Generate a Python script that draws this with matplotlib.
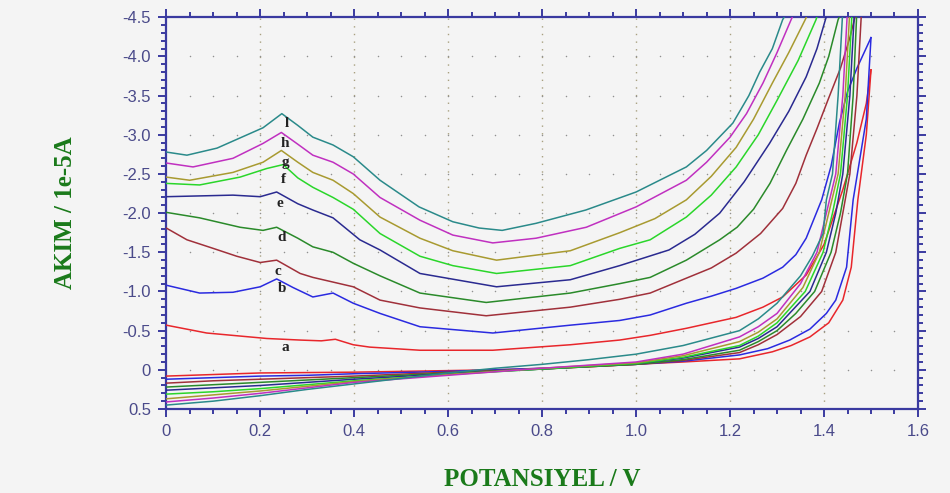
import numpy as np
import matplotlib
matplotlib.use("Agg")
import matplotlib.pyplot as plt
from matplotlib.ticker import MultipleLocator, FuncFormatter

# Forward (anodic) scans, potential in V, current in 1e-5 A
a_fwd_x = [0, .086, .214, .285, .33, .36, .398, .433, .54, .695, .86, .965, 1.03, 1.107, 1.16, 1.213, 1.27, 1.312, 1.362, 1.40, 1.44, 1.47, 1.49, 1.50]
a_fwd_y = [-.57, -.47, -.40, -.38, -.37, -.39, -.32, -.29, -.25, -.25, -.32, -.38, -.44, -.53, -.60, -.67, -.80, -.93, -1.21, -1.6, -2.3, -2.9, -3.4, -3.83]
b_fwd_x = [0, .071, .142, .2, .235, .27, .312, .355, .398, .455, .54, .695, .86, .965, 1.03, 1.107, 1.16, 1.213, 1.27, 1.312, 1.34, 1.362, 1.395, 1.415, 1.433, 1.45, 1.47, 1.49, 1.50]
b_fwd_y = [-1.08, -.98, -.99, -1.06, -1.16, -1.05, -.93, -.98, -.85, -.72, -.55, -.47, -.57, -.63, -.70, -.85, -.94, -1.04, -1.17, -1.31, -1.47, -1.68, -2.17, -2.6, -3.16, -3.55, -3.85, -4.11, -4.24]
c_fwd_x = [0, .044, .1, .15, .2, .235, .285, .312, .355, .398, .455, .54, .681, .86, .965, 1.03, 1.107, 1.16, 1.213, 1.265, 1.312, 1.34, 1.362, 1.385, 1.41, 1.435, 1.455, 1.47]
c_fwd_y = [-1.81, -1.66, -1.55, -1.45, -1.37, -1.40, -1.23, -1.18, -1.12, -1.06, -.89, -.79, -.69, -.80, -.90, -.98, -1.17, -1.30, -1.49, -1.74, -2.06, -2.38, -2.74, -3.08, -3.47, -3.85, -4.24, -4.6]
d_fwd_x = [0, .071, .157, .206, .235, .28, .312, .355, .398, .455, .54, .681, .86, .965, 1.03, 1.107, 1.178, 1.215, 1.25, 1.285, 1.32, 1.355, 1.39, 1.41, 1.43, 1.44]
d_fwd_y = [-2.01, -1.94, -1.82, -1.78, -1.82, -1.68, -1.57, -1.50, -1.36, -1.20, -.98, -.86, -.98, -1.10, -1.18, -1.40, -1.66, -1.82, -2.05, -2.38, -2.80, -3.2, -3.66, -4.0, -4.47, -4.6]
e_fwd_x = [0, .142, .2, .235, .28, .312, .355, .412, .455, .54, .703, .86, .965, 1.07, 1.125, 1.178, 1.23, 1.284, 1.325, 1.362, 1.385, 1.403, 1.41]
e_fwd_y = [-2.21, -2.23, -2.21, -2.27, -2.12, -2.04, -1.94, -1.66, -1.53, -1.23, -1.06, -1.15, -1.33, -1.53, -1.73, -2.0, -2.4, -2.89, -3.3, -3.74, -4.1, -4.47, -4.6]
f_fwd_x = [0, .071, .157, .214, .249, .28, .312, .355, .398, .455, .54, .61, .703, .86, .965, 1.03, 1.107, 1.16, 1.213, 1.26, 1.30, 1.345, 1.383, 1.39]
f_fwd_y = [-2.38, -2.36, -2.46, -2.57, -2.62, -2.45, -2.33, -2.20, -2.05, -1.74, -1.45, -1.33, -1.23, -1.33, -1.55, -1.66, -1.95, -2.23, -2.59, -3.0, -3.44, -3.95, -4.47, -4.6]
g_fwd_x = [0, .05, .142, .206, .245, .28, .312, .355, .398, .455, .54, .61, .703, .86, .965, 1.04, 1.107, 1.16, 1.213, 1.25, 1.29, 1.325, 1.36, 1.37]
g_fwd_y = [-2.46, -2.42, -2.52, -2.65, -2.80, -2.65, -2.52, -2.42, -2.25, -1.95, -1.68, -1.52, -1.40, -1.52, -1.75, -1.93, -2.17, -2.47, -2.84, -3.2, -3.66, -4.05, -4.47, -4.6]
h_fwd_x = [0, .057, .142, .206, .245, .28, .312, .355, .398, .455, .54, .61, .695, .787, .894, 1.0, 1.107, 1.15, 1.2, 1.235, 1.27, 1.30, 1.33, 1.34]
h_fwd_y = [-2.64, -2.59, -2.70, -2.89, -3.03, -2.88, -2.74, -2.65, -2.50, -2.20, -1.91, -1.72, -1.62, -1.68, -1.82, -2.08, -2.42, -2.65, -2.97, -3.27, -3.66, -4.05, -4.47, -4.6]
i_fwd_x = [0, .044, .108, .157, .206, .246, .28, .312, .355, .398, .455, .538, .61, .666, .715, .787, .893, 1.0, 1.107, 1.15, 1.206, 1.24, 1.263, 1.29, 1.312, 1.325]
i_fwd_y = [-2.78, -2.74, -2.83, -2.96, -3.09, -3.27, -3.12, -2.97, -2.87, -2.72, -2.42, -2.08, -1.89, -1.81, -1.78, -1.87, -2.04, -2.27, -2.59, -2.8, -3.15, -3.5, -3.8, -4.1, -4.47, -4.6]

# Reverse (return) scans
a_rev_x = [1.50, 1.49, 1.472, 1.458, 1.44, 1.41, 1.37, 1.33, 1.29, 1.22, 1.1, 1.03, .887, .7, .5, .4, .3, .2, .1, 0]
a_rev_y = [-3.83, -3.0, -2.17, -1.31, -.89, -.6, -.42, -.31, -.23, -.14, -.10, -.08, -.035, 0.0, .02, .03, .035, .04, .06, .08]
b_rev_x = [1.50, 1.49, 1.462, 1.448, 1.425, 1.405, 1.37, 1.327, 1.28, 1.22, 1.1, 1.0, .8, .6, .4, .3, .2, .1, 0]
b_rev_y = [-4.24, -3.2, -2.17, -1.31, -.89, -.72, -.52, -.38, -.27, -.19, -.11, -.07, -.02, .02, .05, .07, .08, .1, .12]
c_rev_x = [1.48, 1.47, 1.455, 1.44, 1.425, 1.395, 1.35, 1.3, 1.26, 1.22, 1.1, 1.0, .8, .6, .4, .3, .2, .1, 0]
c_rev_y = [-4.6, -3.5, -2.5, -2.0, -1.5, -1.0, -.68, -.45, -.32, -.22, -.12, -.07, -.01, .03, .08, .1, .12, .14, .17]
d_rev_x = [1.47, 1.462, 1.45, 1.435, 1.415, 1.38, 1.34, 1.3, 1.26, 1.22, 1.1, 1.0, .8, .6, .4, .3, .2, .1, 0]
d_rev_y = [-4.6, -3.5, -2.5, -2.0, -1.5, -1.0, -.72, -.5, -.36, -.25, -.13, -.07, -.01, .04, .1, .13, .16, .19, .22]
e_rev_x = [1.465, 1.455, 1.44, 1.425, 1.405, 1.37, 1.3, 1.26, 1.22, 1.1, 1.0, .8, .6, .4, .3, .2, .1, 0]
e_rev_y = [-4.6, -3.5, -2.5, -2.0, -1.5, -1.0, -.55, -.4, -.29, -.15, -.08, -.01, .05, .12, .16, .2, .23, .26]
f_rev_x = [1.46, 1.45, 1.435, 1.418, 1.398, 1.36, 1.3, 1.26, 1.22, 1.1, 1.0, .8, .6, .4, .3, .2, .1, 0]
f_rev_y = [-4.6, -3.5, -2.5, -2.0, -1.5, -1.0, -.6, -.43, -.31, -.16, -.08, -.01, .06, .14, .19, .24, .28, .31]
g_rev_x = [1.455, 1.445, 1.43, 1.41, 1.39, 1.355, 1.3, 1.26, 1.22, 1.1, 1.0, .8, .6, .4, .3, .2, .1, 0]
g_rev_y = [-4.6, -3.5, -2.5, -2.0, -1.5, -1.05, -.65, -.48, -.36, -.18, -.09, -.02, .06, .15, .21, .27, .32, .37]
h_rev_x = [1.45, 1.44, 1.425, 1.405, 1.385, 1.35, 1.3, 1.26, 1.22, 1.1, 1.0, .8, .6, .4, .3, .2, .1, 0]
h_rev_y = [-4.6, -3.5, -2.5, -2.0, -1.5, -1.1, -.72, -.55, -.42, -.2, -.10, -.02, .07, .16, .23, .3, .36, .41]
i_rev_x = [1.44, 1.43, 1.418, 1.405, 1.398, 1.375, 1.35, 1.3, 1.26, 1.22, 1.1, 1.0, .9, .8, .7, .6, .4, .3, .2, .1, 0]
i_rev_y = [-4.6, -3.5, -2.5, -2.17, -1.74, -1.45, -1.2, -.85, -.65, -.50, -.31, -.2, -.13, -.07, -.02, .04, .18, .25, .33, .4, .45]

curve_names = ["a", "b", "c", "d", "e", "f", "g", "h", "l"]
curve_colors = ["#e8262b", "#2a2ae0", "#a0303a", "#2a8a2a", "#2a2a90",
                "#2ad62a", "#a89a30", "#c030c0", "#2a8a8a"]
label_x = [.253, .246, .238, .246, .242, .249, .253, .253, .257]
label_y = [-.28, -1.04, -1.26, -1.69, -2.12, -2.43, -2.65, -2.89, -3.15]

fwd = [(a_fwd_x, a_fwd_y), (b_fwd_x, b_fwd_y), (c_fwd_x, c_fwd_y), (d_fwd_x, d_fwd_y),
       (e_fwd_x, e_fwd_y), (f_fwd_x, f_fwd_y), (g_fwd_x, g_fwd_y), (h_fwd_x, h_fwd_y),
       (i_fwd_x, i_fwd_y)]
rev = [(a_rev_x, a_rev_y), (b_rev_x, b_rev_y), (c_rev_x, c_rev_y), (d_rev_x, d_rev_y),
       (e_rev_x, e_rev_y), (f_rev_x, f_rev_y), (g_rev_x, g_rev_y), (h_rev_x, h_rev_y),
       (i_rev_x, i_rev_y)]

bg = "#f4f4f4"
spine_col = "#3a3aa0"
tick_col = "#4a4a8a"
label_col = "#1a7a1a"

fig = plt.figure(figsize=(9.5, 4.93), dpi=100, facecolor=bg)
ax = fig.add_axes([0.175, 0.1704, 0.7913, 0.7945], facecolor=bg)

# grid: dotted verticals and sparse dot rows
for xv in np.arange(0.2, 1.5, 0.2):
    ax.axvline(xv, color="#a8a080", lw=1.0, ls=(0, (1, 4.5)), zorder=1)
gx, gy = np.meshgrid(np.arange(0.05, 1.6, 0.05), np.arange(-4.0, 0.01, 0.5))
ax.scatter(gx.ravel(), gy.ravel(), s=1.2, color="#909090", lw=0, zorder=1)

for (fx, fy), (rx, ry), col in zip(fwd, rev, curve_colors):
    ax.plot(fx, fy, color=col, lw=1.1, zorder=3, solid_joinstyle="round")
    ax.plot(rx, ry, color=col, lw=1.1, zorder=3, solid_joinstyle="round")

for name, lx, ly in zip(curve_names, label_x, label_y):
    ax.text(lx, ly, name, fontsize=11, fontweight="bold", family="Liberation Serif",
            color="#222222", ha="center", va="center", zorder=4)

ax.set_xlim(0, 1.6)
ax.set_ylim(0.5, -4.5)

fmt = FuncFormatter(lambda v, p: "0" if abs(v) < 1e-9 else f"{v:.1f}")
ax.xaxis.set_major_locator(MultipleLocator(0.2))
ax.xaxis.set_minor_locator(MultipleLocator(0.05))
ax.yaxis.set_major_locator(MultipleLocator(0.5))
ax.yaxis.set_minor_locator(MultipleLocator(0.1))
ax.xaxis.set_major_formatter(fmt)
ax.yaxis.set_major_formatter(fmt)

ax.tick_params(which="both", direction="out", color=spine_col, top=True, right=True,
               labelcolor=tick_col, labelsize=12, width=1.4)
ax.tick_params(which="major", length=6, pad=5)
ax.tick_params(which="minor", length=3.5)
for lab in ax.get_xticklabels() + ax.get_yticklabels():
    lab.set_family("Liberation Sans")

for sp in ax.spines.values():
    sp.set_color(spine_col)
    sp.set_linewidth(1.6)

ax.set_xlabel("POTANSIYEL / V", fontsize=18, fontweight="bold", family="Liberation Serif",
              color=label_col, labelpad=21)
ax.set_ylabel("AKIM / 1e-5A", fontsize=18, fontweight="bold", family="Liberation Serif",
              color=label_col, labelpad=33)

fig.savefig("out.png", dpi=100, facecolor=bg)
